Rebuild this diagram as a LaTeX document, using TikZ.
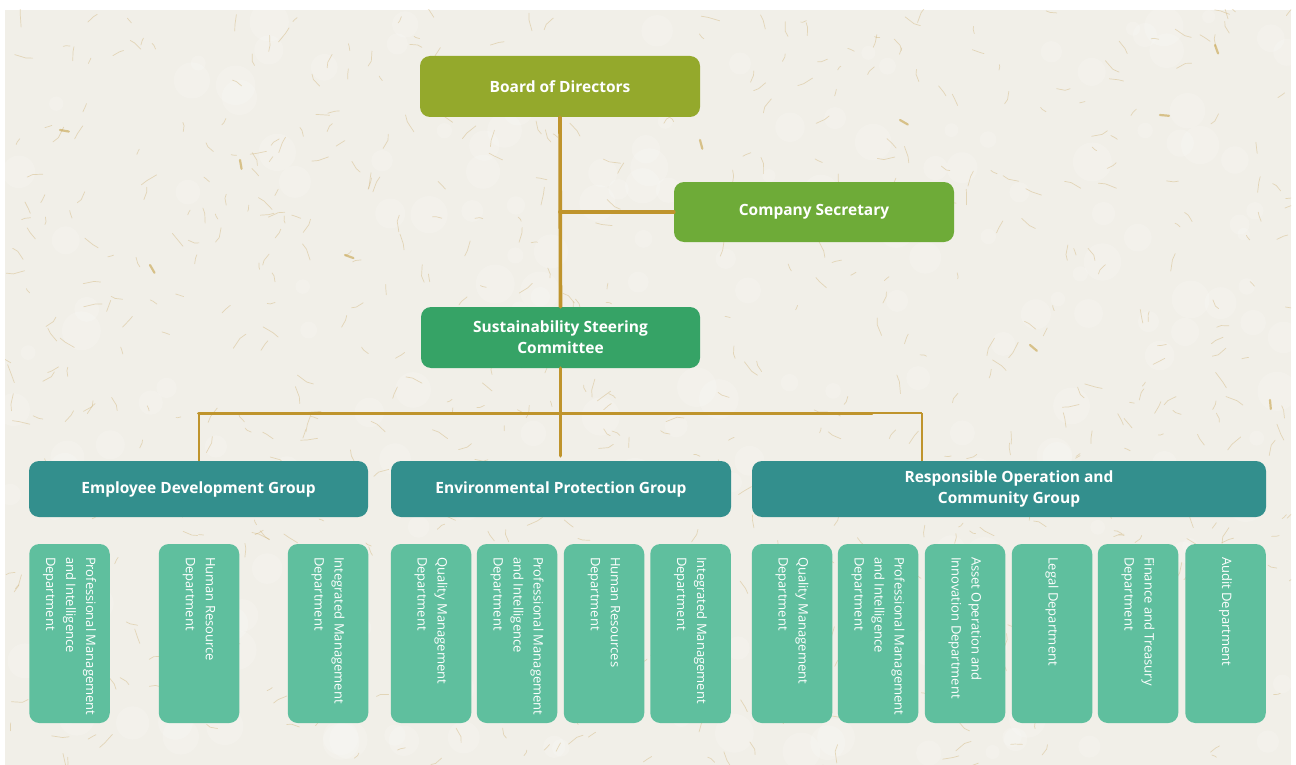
\documentclass[tikz,border=0pt]{standalone}
\usepackage{fontspec}
\setmainfont{Open Sans}
\usetikzlibrary{calc}
\definecolor{paper}{HTML}{F1EFE8}
\definecolor{fibre}{HTML}{CDAE6E}
\definecolor{boardc}{HTML}{94A92C}
\definecolor{secc}{HTML}{6EAB38}
\definecolor{sscc}{HTML}{36A366}
\definecolor{groupc}{HTML}{338F8D}
\definecolor{deptc}{HTML}{5FBF9E}
\definecolor{brushc}{HTML}{BF942C}
\begin{document}
\begin{tikzpicture}[x=1pt,y=-1pt,
  box/.style={rounded corners=10pt, text=white, align=center, inner sep=0pt,
    font=\bfseries\fontsize{15.5}{21}\selectfont},
  topbox/.style={box, minimum width=280, minimum height=61},
  groupbox/.style={box, fill=groupc, minimum height=56},
  deptbox/.style={rounded corners=10pt, fill=deptc, minimum width=80.5,
    minimum height=179, inner sep=0pt},
  depttext/.style={text=white, rotate=-90, anchor=west, inner sep=0pt,
    align=left, font=\fontsize{13}{20}\selectfont},
  brush/.style={draw=brushc, line width=3.6pt, line cap=round},
  thinbrush/.style={draw=brushc, line width=1.6pt},
  fibrestroke/.style={draw=fibre, line width=0.7pt, opacity=0.4, line cap=round},
  speck/.style={fill=white, opacity=0.16}
]
% page and paper background
\useasboundingbox (0,0) rectangle (1296,765);
\fill[white] (0,0) rectangle (1296,765);
\fill[paper] (5,10) rectangle (1291,765);

% paper texture: soft light patches and short curled fibres
\pgfmathsetseed{12}
\begin{scope}
\clip (5,10) rectangle (1291,765);
\foreach \i in {1,...,220}{
  \pgfmathsetmacro\px{5+1286*rnd}
  \pgfmathsetmacro\py{10+755*rnd}
  \pgfmathsetmacro\rr{6+14*rnd}
  \fill[speck] (\px,\py) circle (\rr);
}
\foreach \i in {1,...,700}{
  \pgfmathsetmacro\px{5+1286*rnd}
  \pgfmathsetmacro\py{10+755*rnd}
  \pgfmathsetmacro\ang{360*rnd}
  \pgfmathsetmacro\bend{60*rnd-30}
  \pgfmathsetmacro\len{3+9*rnd}
  \draw[fibrestroke] (\px,\py) -- ++(\ang:\len) -- ++(\ang+\bend:0.6*\len);
}
\foreach \px/\py/\ang in {1215/45/70, 1160/115/5, 345/255/20, 150/265/60, 1030/345/40,
  240/160/80, 900/120/30, 1270/400/85, 60/130/10, 700/140/75}{
  \draw[draw=brushc, line width=2.2pt, opacity=0.5, line cap=round] (\px,\py) -- ++(\ang:9);
}
\end{scope}

% top of the chart
\node[topbox, fill=boardc] (board) at (560,86.5) {Board of Directors};
\node[topbox, fill=secc, minimum height=60] (sec) at (814,212) {Company Secretary};
\node[topbox, fill=sscc, minimum width=279] (ssc) at (560.5,337.5) {Sustainability Steering\\Committee};

% groups
\node[groupbox, minimum width=339] (edg) at (198.5,489) {Employee Development Group};
\node[groupbox, minimum width=340] (epg) at (561,489) {Environmental Protection Group};
\node[groupbox, minimum width=514] (rog) at (1009,489) {Responsible Operation and\\Community Group};

% departments: box plus text read top to bottom
\foreach \n/\x/\t in {
  e1/69.5/{Professional Management\\and Intelligence\\Department},
  e2/199/{Human Resource\\Department},
  e3/328/{Integrated Management\\Department},
  v1/431/{Quality Management\\Department},
  v2/517/{Professional Management\\and Intelligence\\Department},
  v3/604/{Human Resources\\Department},
  v4/690.5/{Integrated Management\\Department},
  r1/792/{Quality Management\\Department},
  r2/878/{Professional Management\\and Intelligence\\Department},
  r3/965/{Asset Operation and\\Innovation Department},
  r4/1052/{Legal Department},
  r5/1138/{Finance and Treasury\\Department},
  r6/1225.5/{Audit Department}}{
  \node[deptbox] (\n) at (\x,633.5) {};
  \node[depttext] (\n-t) at ($(\n.north)+(0,13)$) {\t};
}

% connectors
\draw[brush] (board.south) -- (ssc.north);
\draw[brush] (board.south |- sec.west) -- (sec.west);
\coordinate (barL) at (edg.north |- 0,413);
\coordinate (barR) at (922,413);
\draw[brush] (ssc.south) -- ($(ssc.south |- epg.north)+(0,-5)$);
\draw[brush, line width=3pt] (barL) -- ($(barR)+(-50,0)$);
\draw[thinbrush] ($(barR)+(-52,0)$) -- (barR);
\draw[thinbrush, line width=2pt] (barL) -- (edg.north);
\draw[thinbrush, line width=1.2pt] (barR) -- (barR |- rog.north);
\end{tikzpicture}
\end{document}
